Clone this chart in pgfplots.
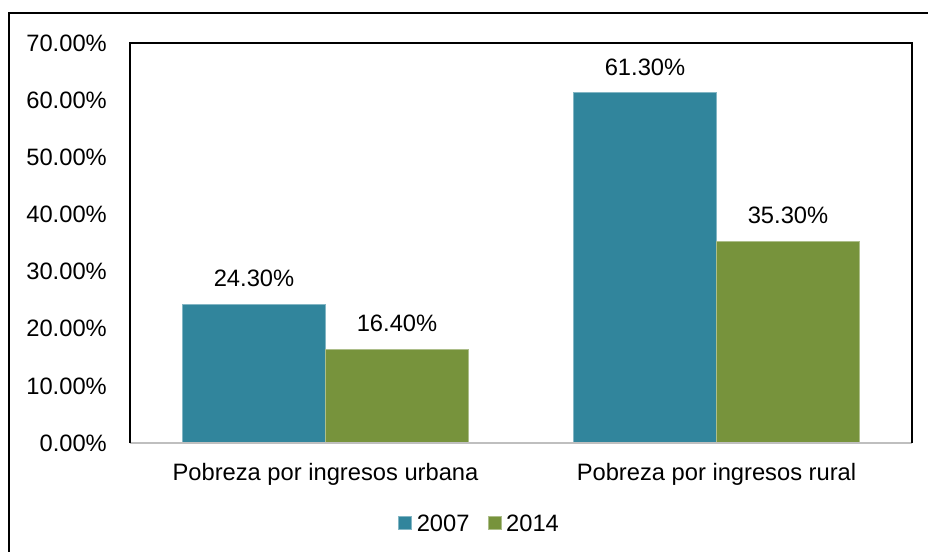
\documentclass[border=0pt]{standalone}
\usepackage{fontspec}
\setmainfont{Liberation Sans}
\usepackage{pgfplots}
\pgfplotsset{compat=1.18}
\definecolor{tealbar}{HTML}{31859C}
\definecolor{greenbar}{HTML}{77933C}
\definecolor{axisgray}{HTML}{BFBFBF}
\begin{document}
\begin{tikzpicture}
\path[use as bounding box] (0,0) rectangle (928bp,-552bp);
\draw[line width=1.2bp] (9bp,-552bp) -- (9bp,-13bp) -- (928bp,-13bp);
\begin{axis}[
  at={(130bp,-443bp)}, anchor=south west,
  scale only axis, width=782bp, height=400bp,
  font=\fontsize{23.8}{28}\selectfont,
  ybar=0pt, bar width=143bp,
  xmin=-0.5, xmax=1.5, ymin=0, ymax=70,
  xtick={0,1},
  xticklabels={Pobreza por ingresos urbana, Pobreza por ingresos rural},
  ytick={0,10,20,30,40,50,60,70},
  yticklabels={0.00\%,10.00\%,20.00\%,30.00\%,40.00\%,50.00\%,60.00\%,70.00\%},
  major tick length=0pt,
  axis line style={draw=none},
  yticklabel style={anchor=east, inner sep=0pt, xshift=-23bp},
  xticklabel style={anchor=north, inner sep=0pt, yshift=-20bp},
  clip=false,
  nodes near coords={\pgfmathprintnumber[fixed,fixed zerofill,precision=2,assume math mode=true]{\pgfplotspointmeta}\%},
  every node near coord/.append style={anchor=south, inner sep=0pt, text depth=0pt, yshift=17bp, font=\fontsize{23.8}{28}\selectfont, black},
  legend style={at={(0.4457,-0.2)}, anchor=center, draw=none, fill=none,
    legend columns=2, font=\fontsize{23.8}{28}\selectfont,
    nodes={inner sep=0pt, text depth=0pt},
    /tikz/every even column/.append style={column sep=18bp}},
  legend image code/.code={\fill[#1] (0bp,-6.5bp) rectangle (13bp,6.5bp);},
  legend cell align=left,
  after end axis/.append code={
    \draw[draw=axisgray, line width=1.2bp] (rel axis cs:0,0) -- (rel axis cs:1,0);
    \draw[draw=black, line width=1.2bp] (rel axis cs:0,0) -- (rel axis cs:0,1) -- (rel axis cs:1,1) -- (rel axis cs:1,0);
  },
]
\addplot[fill=tealbar, draw=tealbar!60!white, line width=0.6bp] coordinates {(0,24.3) (1,61.3)};
\addplot[fill=greenbar, draw=greenbar!60!white, line width=0.6bp] coordinates {(0,16.4) (1,35.3)};
\legend{\hspace{5bp}2007, \hspace{5bp}2014}
\end{axis}
\end{tikzpicture}
\end{document}
